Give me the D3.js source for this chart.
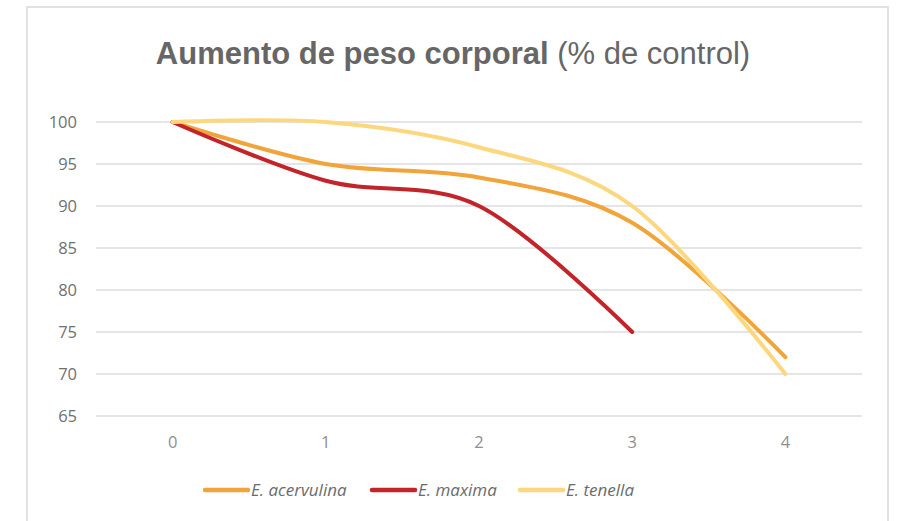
<!DOCTYPE html>
<html>
<head>
<meta charset="utf-8">
<script src="https://cdn.jsdelivr.net/npm/d3@7"></script>
<style>
  body { margin: 0; background: #fff; }
  svg text { font-family: "Open Sans", "Noto Sans", sans-serif; fill: #6b6b6b; }
</style>
</head>
<body>
<div id="chart"></div>
<script>
// data
var days = ["0", "1", "2", "3", "4"];
var acervulina = [100, 95, 93.4, 88, 72];
var maxima = [100, 93, 90, 75];
var tenella = [100, 100, 97, 90, 70];
var yTicks = [65, 70, 75, 80, 85, 90, 95, 100];
var seriesNames = ["E. acervulina", "E. maxima", "E. tenella"];
var seriesColors = ["#f1a43a", "#c2242a", "#fcd77e"];

var svgWidth = 907;
var svgHeight = 521;

var svg = d3.select("#chart")
  .append("svg")
  .attr("width", svgWidth)
  .attr("height", svgHeight);

// frame
svg.append("rect")
  .attr("x", 27)
  .attr("y", 7)
  .attr("width", 861)
  .attr("height", 530)
  .attr("fill", "none")
  .attr("stroke", "#e2e2e6")
  .attr("stroke-width", 2);

// title
var title = svg.append("text")
  .attr("x", 453)
  .attr("y", 64)
  .attr("text-anchor", "middle")
  .style("font-family", "'Liberation Sans', Arial, sans-serif")
  .style("font-size", "31px")
  .style("fill", "#666");
title.append("tspan").attr("font-weight", "bold").text("Aumento de peso corporal");
title.append("tspan").text(" (% de control)");

var xScale = d3.scaleBand()
  .domain(days)
  .range([96, 862]);

var yScale = d3.scaleLinear()
  .domain([65, 100])
  .range([416, 122]);

// gridlines
svg.append("g")
  .selectAll("line")
  .data(yTicks)
  .enter()
  .append("line")
  .attr("x1", 96)
  .attr("x2", 862)
  .attr("y1", d => yScale(d))
  .attr("y2", d => yScale(d))
  .attr("stroke", "#dcdce0")
  .attr("stroke-width", 1.5);

// y axis labels
var leftAxis = d3.axisLeft(yScale).tickValues(yTicks).tickSize(0).tickPadding(0);
var yAxis = svg.append("g")
  .attr("transform", "translate(77,0)")
  .call(leftAxis);
yAxis.select(".domain").remove();
yAxis.selectAll("text")
  .style("font-size", "16.5px")
  .style("fill", "#707070");

// x axis labels
var bottomAxis = d3.axisBottom(xScale).tickSize(0).tickPadding(0);
var xAxis = svg.append("g")
  .attr("transform", "translate(0,436)")
  .call(bottomAxis);
xAxis.select(".domain").remove();
xAxis.selectAll("text")
  .style("font-size", "16.5px")
  .style("fill", "#8f8f8f");

// lines
var line = d3.line()
  .x((d, i) => xScale(days[i]) + xScale.bandwidth() / 2)
  .y(d => yScale(d))
  .curve(d3.curveCardinal.tension(0));

var allSeries = [acervulina, maxima, tenella];
svg.append("g")
  .selectAll("path")
  .data(allSeries)
  .enter()
  .append("path")
  .attr("d", d => line(d))
  .attr("fill", "none")
  .attr("stroke", (d, i) => seriesColors[i])
  .attr("stroke-width", 4)
  .attr("stroke-linecap", "round");

// legend
var legendX = [205, 372, 520];
var legend = svg.append("g")
  .selectAll("g")
  .data(seriesNames)
  .enter()
  .append("g")
  .attr("transform", (d, i) => `translate(${legendX[i]},490)`);
legend.append("line")
  .attr("x1", 0)
  .attr("x2", 43)
  .attr("stroke", (d, i) => seriesColors[i])
  .attr("stroke-width", 4.5)
  .attr("stroke-linecap", "round");
legend.append("text")
  .attr("x", 46)
  .attr("y", 6)
  .style("font-size", "17px")
  .style("font-style", "italic")
  .style("fill", "#6b6b6b")
  .text(d => d);
</script>
</body>
</html>
